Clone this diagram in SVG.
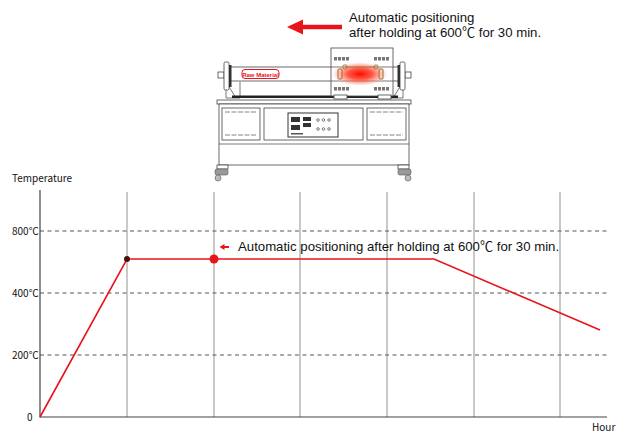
<svg xmlns="http://www.w3.org/2000/svg" width="629" height="437" viewBox="0 0 629 437">
<defs>
<style>
.t{font-family:"Liberation Sans","Noto Sans CJK KR",sans-serif;fill:#111}
.lab{font-family:"Noto Sans CJK KR","Liberation Sans",sans-serif;fill:#111;font-size:10px}
.ln{stroke:#555;stroke-width:0.8;fill:none}
.m{stroke:#444;stroke-width:0.8;fill:#fff}
.md{fill:#777}
.grid{stroke:#777;stroke-width:0.8}
.dash{stroke:#555;stroke-width:1;stroke-dasharray:4 3.5}
.red{stroke:#e8141c;stroke-width:1.6;fill:none}
</style>
<radialGradient id="glow" cx="0.5" cy="0.5" r="0.5">
<stop offset="0" stop-color="#ff0a00" stop-opacity="1"/>
<stop offset="0.45" stop-color="#ff3a25" stop-opacity="0.85"/>
<stop offset="0.8" stop-color="#ff8a70" stop-opacity="0.45"/>
<stop offset="1" stop-color="#ffc0b0" stop-opacity="0"/>
</radialGradient>
<g id="vent4">
<rect x="0" y="0" width="3" height="3.5" class="md"/>
<rect x="4" y="0" width="3" height="3.5" class="md"/>
<rect x="8" y="0" width="3" height="3.5" class="md"/>
<rect x="12" y="0" width="3" height="3.5" class="md"/>
</g>
</defs>
<rect width="629" height="437" fill="#fff"/>

<g id="top-annotation">
<path d="M342 27 H302" stroke="#e8141c" stroke-width="4.5"/>
<polygon points="287,27 303,19.5 303,34.5" fill="#e8141c"/>
<text class="t" x="349" y="22" font-size="13.2">Automatic positioning</text>
<text class="t" x="349" y="37" font-size="13.2">after holding at 600℃ for 30 min.</text>
</g>

<g id="machine">
<rect x="230" y="67" width="170" height="14" class="m"/>
<path d="M226 82 L236 98 M240 82 L240 98 M226 82 L226 98 L240 98" class="ln"/>
<path d="M403 82 L393 98 M389 82 L389 98 M403 82 L403 98 L389 98" class="ln"/>
<rect x="232" y="95.5" width="166" height="2.5" fill="#222"/>
<rect x="218" y="72" width="6" height="6" class="m"/>
<rect x="224" y="62" width="5" height="28" rx="1.5" class="m"/>
<rect x="229" y="65" width="2.5" height="22" fill="#333"/>
<rect x="405" y="72" width="6" height="6" class="m"/>
<rect x="400" y="62" width="5" height="28" rx="1.5" class="m"/>
<rect x="397.5" y="65" width="2.5" height="22" fill="#333"/>
<rect x="331" y="48" width="62" height="48" class="m"/>
<line x1="331" y1="67" x2="393" y2="67" class="ln"/>
<line x1="331" y1="81" x2="393" y2="81" class="ln"/>
<use href="#vent4" x="334" y="57"/>
<use href="#vent4" x="374" y="57"/>
<use href="#vent4" x="334" y="87"/>
<use href="#vent4" x="374" y="87"/>
<ellipse cx="360" cy="74" rx="28" ry="12" fill="url(#glow)"/>
<path d="M345 67 L377 67" stroke="#b07a40" stroke-width="0.8"/>
<rect x="338" y="69" width="4" height="10" rx="1" fill="none" stroke="#a06a30" stroke-width="1"/>
<rect x="379" y="69" width="4" height="10" rx="1" fill="none" stroke="#a06a30" stroke-width="1"/>
<rect x="343" y="65" width="4" height="4" rx="1" fill="none" stroke="#a06a30" stroke-width="0.8"/>
<rect x="374" y="65" width="4" height="4" rx="1" fill="none" stroke="#a06a30" stroke-width="0.8"/>
<rect x="334" y="95" width="13" height="4" class="m"/>
<rect x="378" y="95" width="13" height="4" class="m"/>
<rect x="242" y="69.5" width="37" height="9" rx="3" fill="#fff" stroke="#e8141c" stroke-width="1"/>
<text x="260.5" y="76.5" font-family="Liberation Sans,sans-serif" font-size="6" font-weight="bold" fill="#e8141c" text-anchor="middle">Raw Material</text>
<rect x="217" y="100" width="194" height="4" class="m"/>
<rect x="219" y="104" width="190" height="61" class="m"/>
<rect x="222" y="108" width="38" height="32" class="m"/>
<rect x="264" y="108" width="99" height="32" class="m"/>
<rect x="367" y="108" width="39" height="32" class="m"/>
<path d="M225 112 H257 M225 135 H257 M370 112 H403 M370 135 H403" stroke="#666" stroke-width="0.8" stroke-dasharray="5 1.5"/>
<line x1="219" y1="144" x2="409" y2="144" class="ln"/>
<rect x="288" y="113" width="50" height="24" fill="#fff" stroke="#333" stroke-width="1"/>
<rect x="291" y="117" width="9" height="5" fill="#333"/>
<rect x="291" y="125" width="9" height="5" fill="#333"/>
<rect x="303" y="117" width="8" height="4" fill="#333"/>
<rect x="303" y="123" width="8" height="4" fill="#333"/>
<rect x="291" y="133" width="12" height="1.5" fill="#555"/>
<g fill="none" stroke="#444" stroke-width="0.7">
<circle cx="318" cy="120" r="1.3"/><circle cx="323.5" cy="120" r="1.3"/><circle cx="329" cy="120" r="1.3"/>
<circle cx="318" cy="129" r="1.3"/><circle cx="323.5" cy="129" r="1.3"/><circle cx="329" cy="129" r="1.3"/>
</g>
<rect x="217" y="165" width="11" height="4" class="m"/>
<rect x="215" y="169" width="13" height="6" rx="2" fill="#999" stroke="#555" stroke-width="0.6"/>
<circle cx="218" cy="178" r="3" fill="#bbb" stroke="#555" stroke-width="0.6"/>
<rect x="398" y="165" width="11" height="4" class="m"/>
<rect x="398" y="169" width="13" height="6" rx="2" fill="#999" stroke="#555" stroke-width="0.6"/>
<circle cx="408" cy="178" r="3" fill="#bbb" stroke="#555" stroke-width="0.6"/>
</g>

<g id="chart">
<g id="grid">
<line x1="127" y1="192" x2="127" y2="417" class="grid"/>
<line x1="214" y1="192" x2="214" y2="417" class="grid"/>
<line x1="300" y1="192" x2="300" y2="417" class="grid"/>
<line x1="387" y1="192" x2="387" y2="417" class="grid"/>
<line x1="474" y1="192" x2="474" y2="417" class="grid"/>
<line x1="560" y1="192" x2="560" y2="417" class="grid"/>
<line x1="40" y1="231" x2="607" y2="231" class="dash"/>
<line x1="40" y1="293" x2="607" y2="293" class="dash"/>
<line x1="40" y1="355" x2="607" y2="355" class="dash"/>
</g>
<g id="axes">
<line x1="40" y1="190" x2="40" y2="417.5" stroke="#444" stroke-width="1.2"/>
<line x1="40" y1="417" x2="607" y2="417" stroke="#444" stroke-width="1.2"/>
</g>
<g id="labels">
<text class="lab" x="12" y="182" font-size="11">Temperature</text>
<text class="lab" x="12" y="235">800℃</text>
<text class="lab" x="12" y="297">400℃</text>
<text class="lab" x="12" y="359">200℃</text>
<text class="lab" x="27" y="421">0</text>
<text class="lab" x="592" y="431">Hour</text>
</g>
<g id="curve">
<polyline points="40,417 127,259 434,259 600,330" class="red"/>
<circle cx="127" cy="259" r="3" fill="#4a1010"/>
<circle cx="214" cy="259" r="4.5" fill="#e8141c"/>
</g>
<g id="annotation">
<path d="M229 247 H223" stroke="#e8141c" stroke-width="2"/>
<polygon points="219.5,247 224.5,244 224.5,250" fill="#e8141c"/>
<text class="t" x="238" y="251" font-size="13.2">Automatic positioning after holding at 600℃ for 30 min.</text>
</g>
</g>
</svg>
